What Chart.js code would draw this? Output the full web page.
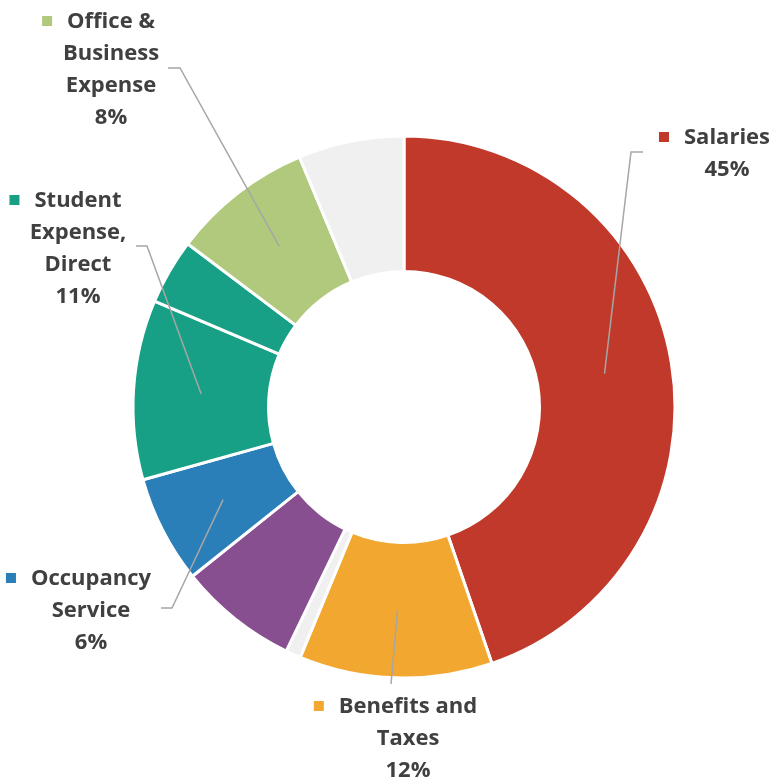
<!DOCTYPE html>
<html>
<head>
<meta charset="utf-8">
<script src="https://cdn.jsdelivr.net/npm/chart.js@4.4.1/dist/chart.umd.min.js"></script>
<style>
  html, body { margin: 0; padding: 0; background: #fff; }
  #wrap { position: relative; width: 781px; height: 779px; }
</style>
</head>
<body>
<div id="wrap"><canvas id="chart"></canvas></div>
<script>
// slices, clockwise from 12 o'clock
const categories = ["Salaries", "Benefits and Taxes", "Other", "Other 2", "Occupancy Service",
                    "Student Expense, Direct", "Student Expense, Other", "Office & Business Expense", "Other 3"];
const values = [44.7, 11.5, 0.9, 7.1, 6.4, 10.7, 3.9, 8.4, 6.3];
const colors = ["#C0392B", "#F2A830", "#F0F0F0", "#874F8F", "#2A7FB8",
                "#17A085", "#17A085", "#B1C97D", "#F0F0F0"];
// wrapped label text (null = no label shown)
const labelLines = [["Salaries"], ["Benefits and", "Taxes"], null, null, ["Occupancy", "Service"],
                    ["Student", "Expense,", "Direct"], null, ["Office &", "Business", "Expense"], null];

// where each label sits and how its leader line bends
const labelLayout = {
  0: { x: 727, y: 138, elbow: [631, 152], end: [643, 152] },
  1: { x: 408, y: 707, elbow: null, end: [391, 684] },
  4: { x: 91, y: 579, elbow: [172, 608], end: [161, 608] },
  5: { x: 78, y: 201, elbow: [147, 246], end: [136, 246] },
  7: { x: 111, y: 22, elbow: [180, 68], end: [168, 68] }
};

const total = values.reduce((s, v) => s + v, 0);
const FONT = 'bold 22px "Open Sans", sans-serif';
const LINE_H = 32;

const labelPlugin = {
  id: 'calloutLabels',
  afterDatasetsDraw(chart) {
    const ctx = chart.ctx;
    const arcs = chart.getDatasetMeta(0).data;
    ctx.save();
    arcs.forEach((arc, i) => {
      const lay = labelLayout[i];
      if (!lay || !labelLines[i]) return;
      // leader line from the middle of the slice
      const p = arc.getCenterPoint();
      ctx.strokeStyle = '#A6A6A6';
      ctx.lineWidth = 1.5;
      ctx.beginPath();
      ctx.moveTo(p.x, p.y);
      if (lay.elbow) ctx.lineTo(lay.elbow[0], lay.elbow[1]);
      ctx.lineTo(lay.end[0], lay.end[1]);
      ctx.stroke();

      const lines = labelLines[i].concat([Math.round(values[i] / total * 100) + '%']);
      ctx.font = FONT;
      ctx.fillStyle = '#404040';
      ctx.textAlign = 'center';
      ctx.textBaseline = 'middle';
      lines.forEach((t, k) => ctx.fillText(t, lay.x, lay.y + k * LINE_H));

      // legend key in front of the first line
      const w = ctx.measureText(lines[0]).width;
      ctx.fillStyle = colors[i];
      ctx.fillRect(lay.x - w / 2 - 25, lay.y - 6, 10, 10);
    });
    ctx.restore();
  }
};

new Chart(document.getElementById('chart'), {
  type: 'doughnut',
  data: {
    labels: categories,
    datasets: [{
      data: values,
      backgroundColor: colors,
      borderColor: '#ffffff',
      borderWidth: 3,
      hoverOffset: 0
    }]
  },
  options: {
    responsive: true,
    maintainAspectRatio: false,
    animation: false,
    cutout: '50%',
    radius: 271,
    layout: { padding: { left: 132, right: 105, top: 135, bottom: 100 } },
    plugins: {
      legend: { display: false },
      tooltip: { enabled: false }
    }
  },
  plugins: [labelPlugin]
});
</script>
</body>
</html>
